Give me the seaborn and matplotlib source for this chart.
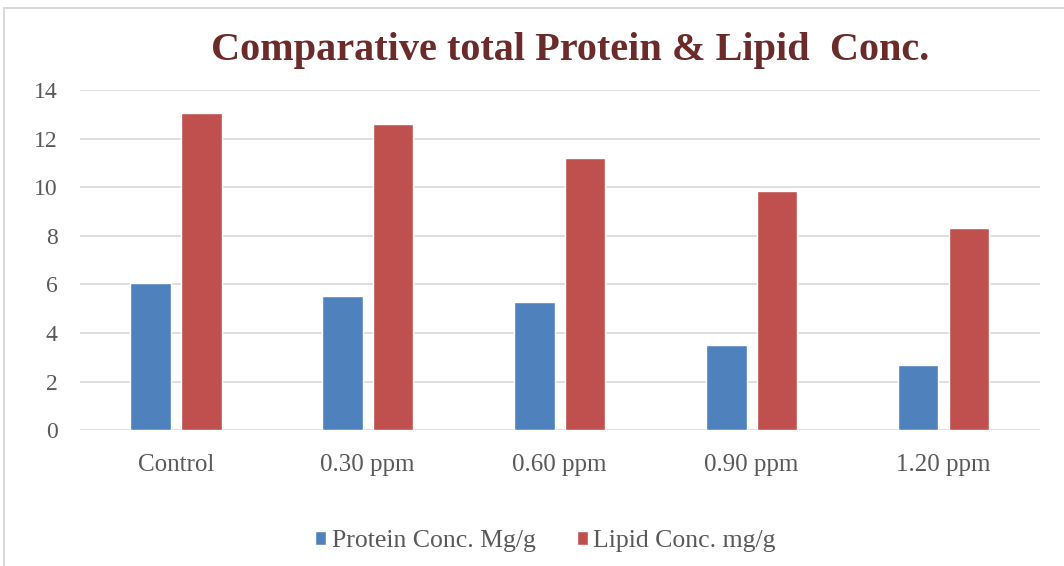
import matplotlib
matplotlib.use("Agg")
import matplotlib.pyplot as plt
import seaborn as sns
import pandas as pd
from matplotlib.patches import Rectangle

categories = ["Control", "0.30 ppm", "0.60 ppm", "0.90 ppm", "1.20 ppm"]
protein = [6.05, 5.52, 5.27, 3.50, 2.68]
lipid = [13.05, 12.6, 11.22, 9.85, 8.30]
series_names = ["Protein Conc. Mg/g", "Lipid Conc. mg/g"]
yticks = [0, 2, 4, 6, 8, 10, 12, 14]

df = pd.DataFrame({
    "cat": categories * 2,
    "val": protein + lipid,
    "series": [series_names[0]] * len(categories) + [series_names[1]] * len(categories),
})

sns.set_theme(style="white")
plt.rcParams["font.family"] = ["Liberation Serif", "DejaVu Serif"]

fig = plt.figure(figsize=(10.64, 5.66), dpi=100)
ax = fig.add_axes([0.075, 0.240, 0.902, 0.601])

sns.barplot(data=df, x="cat", y="val", hue="series", order=categories,
            hue_order=series_names, palette=["#4F81BD", "#C0504D"],
            width=0.53, gap=0.2, ax=ax, saturation=1, errorbar=None)

ax.set_xlim(-0.5, 4.5)
ax.set_ylim(0, 14)
ax.set_yticks(yticks)
ax.set_yticklabels([str(t) for t in yticks], fontsize=17, color="#595959")
ax.tick_params(axis="x", labelsize=18, colors="#595959", length=0, pad=17)
ax.tick_params(axis="y", length=0, pad=16)
ax.set_xlabel("")
ax.set_ylabel("")
ax.yaxis.grid(True, color="#D9D9D9", linewidth=1.2)
ax.set_axisbelow(True)
for s in ["left", "right", "top", "bottom"]:
    ax.spines[s].set_visible(False)

ax.legend(loc="upper center", bbox_to_anchor=(0.485, -0.225), ncol=2, frameon=False,
          fontsize=18.5, handlelength=0.45, handleheight=0.45, handletextpad=0.2,
          columnspacing=1.6, labelcolor="#595959")

fig.text(0.536, 0.91, "Comparative total Protein & Lipid  Conc.", ha="center", va="center",
         fontsize=29, fontweight="bold", color="#6B2B2B")

fig.patches.append(Rectangle((0.004, -0.01), 1.0, 0.995, transform=fig.transFigure,
                             fill=False, edgecolor="#D9D9D9", linewidth=1.5))

fig.savefig("out.png", dpi=100)
